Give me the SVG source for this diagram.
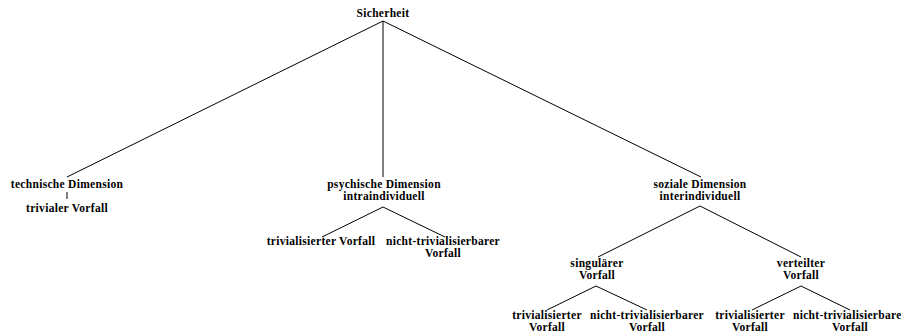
<svg xmlns="http://www.w3.org/2000/svg" width="901" height="332" viewBox="0 0 901 332">
<style>
text{font-family:"Liberation Serif","Times New Roman",serif;font-weight:bold;font-size:11.5px;letter-spacing:0.3px;fill:#000;text-anchor:middle}
.e{stroke:#000;stroke-width:1;fill:none}
</style>
<rect width="901" height="332" fill="#fff"/>
<g id="connectors">
<line class="e" x1="383" y1="21" x2="67" y2="177"/>
<line class="e" x1="383" y1="21" x2="383" y2="177"/>
<line class="e" x1="383" y1="21" x2="701" y2="177"/>
<line class="e" x1="67" y1="192" x2="67" y2="199"/>
<line class="e" x1="383" y1="207" x2="322" y2="237"/>
<line class="e" x1="383" y1="207" x2="445" y2="237"/>
<line class="e" x1="700" y1="206" x2="598" y2="257"/>
<line class="e" x1="700" y1="206" x2="801" y2="257"/>
<line class="e" x1="596" y1="286" x2="547" y2="310"/>
<line class="e" x1="596" y1="286" x2="647" y2="310"/>
<line class="e" x1="801" y1="286" x2="752" y2="310"/>
<line class="e" x1="801" y1="286" x2="850" y2="310"/>
</g>
<g id="n-sicherheit"><text x="383" y="17">Sicherheit</text></g>
<g id="n-technisch"><text x="67" y="188">technische Dimension</text></g>
<g id="n-trivialer"><text x="67" y="212">trivialer Vorfall</text></g>
<g id="n-psychisch"><text x="384" y="188">psychische Dimension</text><text x="384" y="200">intraindividuell</text></g>
<g id="n-psy-triv"><text x="321" y="245">trivialisierter Vorfall</text></g>
<g id="n-psy-nicht"><text x="443" y="245">nicht-trivialisierbarer</text><text x="443" y="257">Vorfall</text></g>
<g id="n-sozial"><text x="700" y="188">soziale Dimension</text><text x="700" y="200">interindividuell</text></g>
<g id="n-singular"><text x="597" y="267">singulärer</text><text x="597" y="279">Vorfall</text></g>
<g id="n-verteilt"><text x="801" y="267">verteilter</text><text x="801" y="279">Vorfall</text></g>
<g id="n-sing-triv"><text x="547" y="319">trivialisierter</text><text x="547" y="331">Vorfall</text></g>
<g id="n-sing-nicht"><text x="647" y="319">nicht-trivialisierbarer</text><text x="647" y="331">Vorfall</text></g>
<g id="n-vert-triv"><text x="750" y="319">trivialisierter</text><text x="750" y="331">Vorfall</text></g>
<g id="n-vert-nicht"><text x="850" y="319">nicht-trivialisierbarer</text><text x="850" y="331">Vorfall</text></g>
</svg>
